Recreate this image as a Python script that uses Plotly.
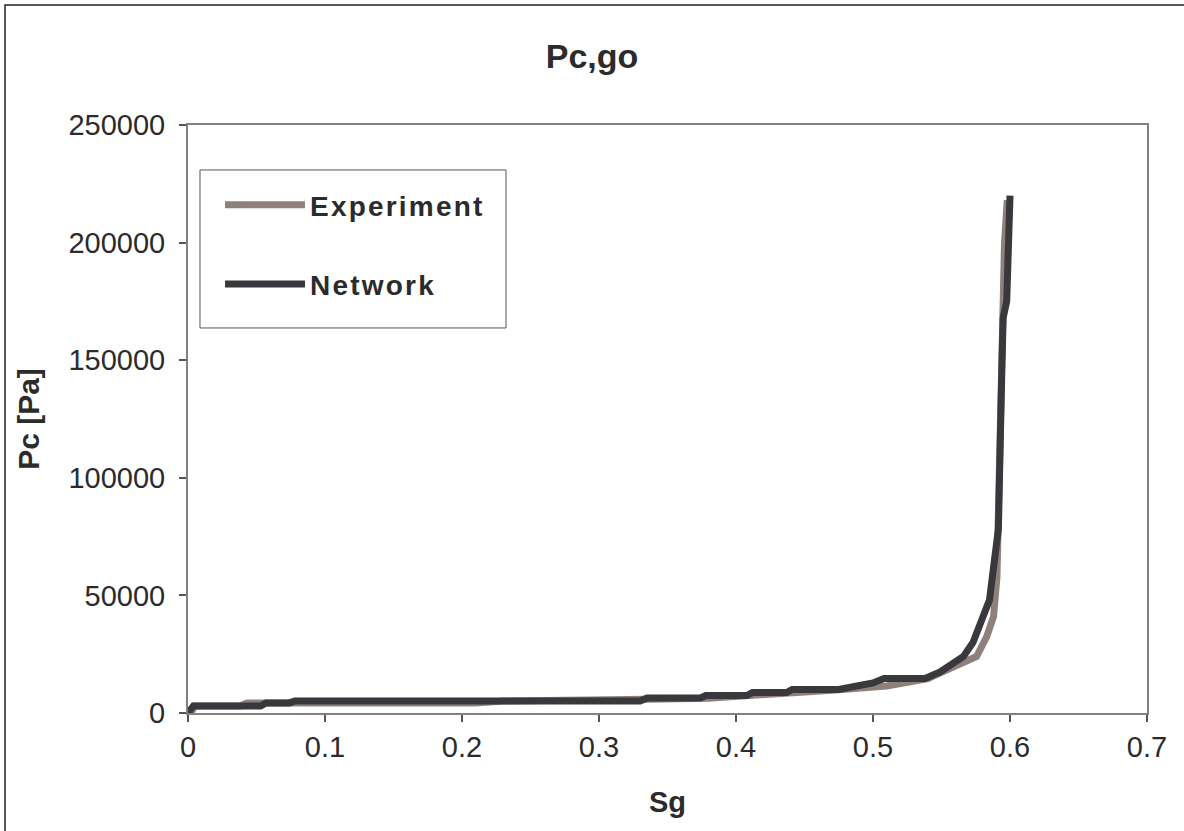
import plotly.graph_objects as go

# Gas-oil capillary pressure vs gas saturation
exp_sg = [0.002, 0.005, 0.038, 0.043, 0.08, 0.21, 0.23, 0.33, 0.335, 0.38, 0.40,
          0.41, 0.44, 0.47, 0.51, 0.54, 0.56, 0.5756, 0.583, 0.588, 0.5905,
          0.5915, 0.593, 0.5945, 0.596, 0.598]
exp_pc = [0, 3000, 3000, 4300, 4300, 4300, 5100, 5100, 5800, 6300, 6900,
          7600, 8600, 9700, 11500, 14600, 20000, 24000, 32500, 41000, 58000,
          90000, 130000, 175000, 200000, 218000]

net_sg = [0, 0.004, 0.053, 0.057, 0.074, 0.078, 0.33, 0.335, 0.374, 0.378,
          0.408, 0.412, 0.437, 0.441, 0.475, 0.49, 0.50, 0.508, 0.538, 0.549,
          0.558, 0.566, 0.573, 0.580, 0.585, 0.5878, 0.589, 0.5915, 0.594,
          0.595, 0.5976, 0.5985, 0.600, 0.600]
net_pc = [0, 3000, 3000, 4300, 4300, 5100, 5100, 6400, 6400, 7400,
          7400, 8700, 8700, 10000, 10000, 11500, 12800, 14700, 14700, 17500,
          20500, 24000, 30000, 39500, 48000, 61000, 68000, 78000, 145000,
          168000, 175000, 200000, 210000, 220000]

x_ticks = [0, 0.1, 0.2, 0.3, 0.4, 0.5, 0.6, 0.7]
y_ticks = [0, 50000, 100000, 150000, 200000, 250000]

FONT = "Liberation Sans, Arial, sans-serif"
TEXT = "#2b2b2b"


def spaced(label):
    return f'<span style="letter-spacing:2.2px"><b>{label}</b></span>'


fig = go.Figure()
fig.add_trace(go.Scatter(
    x=exp_sg, y=exp_pc, mode="lines", name=spaced("Experiment"),
    line=dict(color="#8e817c", width=7), legendgroup="a",
))
fig.add_trace(go.Scatter(
    x=net_sg, y=net_pc, mode="lines", name=spaced("Network"),
    line=dict(color="#38383d", width=7), legendgroup="b",
))

axis_common = dict(
    showgrid=False, zeroline=False, showline=True, linecolor="#858080",
    linewidth=2, mirror=True, ticks="outside", ticklen=7, tickwidth=1.5,
    tickcolor="#555", tickfont=dict(family=FONT, size=29, color=TEXT),
)

fig.update_xaxes(
    range=[0, 0.7], tickvals=x_ticks, ticktext=[f"{v:g}" for v in x_ticks],
    title=dict(text="<b>Sg</b>", font=dict(family=FONT, size=29, color=TEXT), standoff=30),
    **axis_common,
)
fig.update_yaxes(
    range=[0, 250000], tickvals=y_ticks, ticktext=[str(v) for v in y_ticks],
    ticklabelstandoff=8,
    title=dict(text="<b>Pc [Pa]</b>", font=dict(family=FONT, size=30, color=TEXT), standoff=20),
    **axis_common,
)

# legend frame
legend_box = dict(
    type="rect", xref="paper", yref="paper",
    x0=0.0125, x1=0.3316, y0=0.6548, y1=0.9235,
    line=dict(color="#555", width=1), fillcolor="white", layer="below",
)
# outer chart border
outer_box = dict(
    type="rect", xref="paper", yref="paper",
    x0=-0.1908, x1=1.2, y0=-0.25, y1=1.204,
    line=dict(color="#222", width=1.5), fillcolor="rgba(0,0,0,0)", layer="below",
)

fig.update_layout(
    width=1184, height=831,
    margin=dict(l=188, r=37, t=125, b=118),
    plot_bgcolor="white", paper_bgcolor="white",
    title=dict(text="<b>Pc,go</b>", x=0.5, xanchor="center", y=0.933, yanchor="middle",
               font=dict(family=FONT, size=34, color=TEXT)),
    showlegend=True,
    legend=dict(
        x=0.0334, y=0.9065, xanchor="left", yanchor="top",
        bgcolor="rgba(0,0,0,0)", borderwidth=0,
        font=dict(family=FONT, size=28, color=TEXT),
        itemwidth=80, tracegroupgap=40, traceorder="grouped",
    ),
    shapes=[legend_box, outer_box],
)

fig.write_html("out.html")
